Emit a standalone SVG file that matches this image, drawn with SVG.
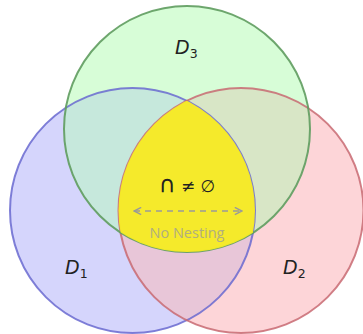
<svg xmlns="http://www.w3.org/2000/svg" width="363" height="334" viewBox="0 0 363 334">
<defs>
<style>
.lbl{font-family:"DejaVu Sans","Liberation Sans",sans-serif;font-style:oblique;font-size:19px;fill:#222}
.sub{font-style:normal;font-size:12.5px}
.math{font-family:"DejaVu Sans","Liberation Sans",sans-serif;font-size:17px;fill:#222}
.big{font-size:23px}
.note{font-family:"Open Sans","Liberation Sans",sans-serif;font-size:14.5px;fill:#a9a88a;opacity:0.9}
.stroke{fill:none;stroke-width:2}
</style>
<clipPath id="c1"><circle cx="132.5" cy="210.5" r="122.5"/></clipPath>
<clipPath id="c2"><circle cx="241" cy="210.5" r="122.5"/></clipPath>
<clipPath id="c3"><circle cx="187" cy="129" r="123"/></clipPath>
<marker id="ah" viewBox="0 0 10 10" refX="9" refY="5" markerWidth="9" markerHeight="9" markerUnits="userSpaceOnUse" orient="auto-start-reverse">
<path d="M1,1 L9,5 L1,9" fill="none" stroke="#9a9a9a" stroke-width="1.6"/>
</marker>
</defs>
<rect width="363" height="334" fill="#fff"/>
<g id="fills">
<circle cx="132.5" cy="210.5" r="122.5" fill="#d5d5fc"/>
<circle cx="241" cy="210.5" r="122.5" fill="#fdd5d8"/>
<circle cx="187" cy="129" r="123" fill="#d7fdd7"/>
<g clip-path="url(#c1)"><circle cx="187" cy="129" r="123" fill="#c6e8dc"/></g>
<g clip-path="url(#c2)"><circle cx="187" cy="129" r="123" fill="#d8e6c6"/></g>
<g clip-path="url(#c1)"><circle cx="241" cy="210.5" r="122.5" fill="#e8c6d8"/></g>
</g>
<g id="D1"><circle class="stroke" cx="132.5" cy="210.5" r="122.5" stroke="#6a6ad0" stroke-opacity="0.85"/>
<text class="lbl" x="65" y="274">D<tspan class="sub" dy="4">1</tspan></text></g>
<g id="D2"><circle class="stroke" cx="241" cy="210.5" r="122.5" stroke="#c86a72" stroke-opacity="0.85"/>
<text class="lbl" x="283" y="274">D<tspan class="sub" dy="4">2</tspan></text></g>
<g id="D3"><circle class="stroke" cx="187" cy="129" r="123" stroke="#5f9c5f" stroke-opacity="0.9"/>
<text class="lbl" x="175" y="54">D<tspan class="sub" dy="4">3</tspan></text></g>
<g id="core" clip-path="url(#c1)"><g clip-path="url(#c2)"><circle cx="187" cy="129" r="123" fill="#f5ec22" fill-opacity="0.95"/></g></g>
<g id="connectors">
<line x1="134" y1="211" x2="242" y2="211" stroke="#9a9a9a" stroke-width="1.4" stroke-dasharray="6,5" marker-start="url(#ah)" marker-end="url(#ah)"/>
</g>
<text class="math" x="187" y="192" text-anchor="middle"><tspan class="big">∩</tspan> ≠ ∅</text>
<text class="note" x="187" y="238" text-anchor="middle">No Nesting</text>
</svg>
